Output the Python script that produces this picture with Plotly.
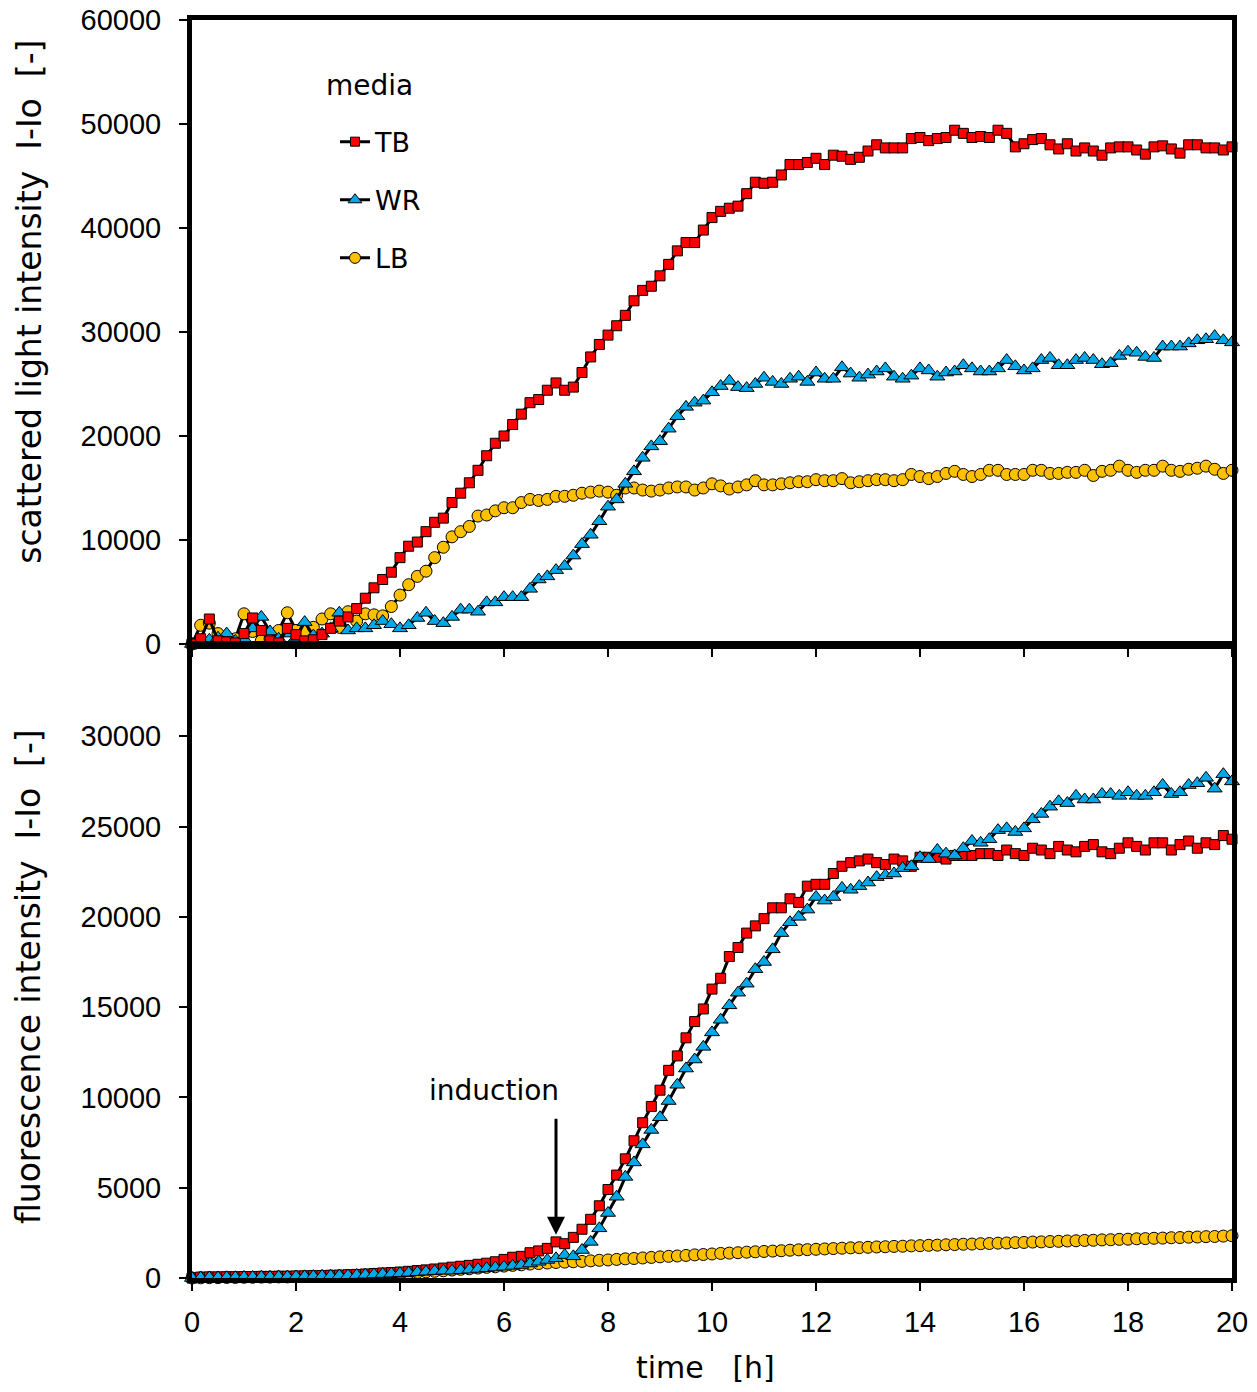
import plotly.graph_objects as go

# time points (h), one every 10 min
time_h = [i / 6 for i in range(121)]

# ---- scattered light intensity (top panel) ----
scatter_TB = [0, 500, 2400, 300, 200, 100, 1000, 2500, 1300, 300, 100, 1500, 900, 300, 400, 900, 1500, 2200,
              2600, 3400, 4400, 5400, 6200, 6900, 8300, 9400, 9800, 10800, 11700, 12100,
              13600, 14500, 15500, 16700, 18100, 19300, 20000, 21100, 22100, 23200, 23500, 24400,
              25100, 24400, 24700, 26100, 27600, 28800, 29700, 30600, 31600, 33000, 34000, 34400,
              35400, 36500, 37800, 38600, 38600, 39800, 41000, 41600, 41900, 42100, 43300, 44400,
              44300, 44400, 45100, 46100, 46100, 46300, 46700, 46100, 47000, 46900, 46600, 46800,
              47400, 48000, 47700, 47700, 47700, 48600, 48700, 48400, 48600, 48700, 49400, 49100,
              48700, 48800, 48700, 49400, 49100, 47800, 48100, 48500, 48600, 48000, 47600, 48100,
              47400, 47700, 47400, 47000, 47700, 47800, 47800, 47500, 47100, 47800, 47900, 47600,
              47200, 48000, 48000, 47700, 47700, 47500, 47800]
scatter_WR = [0, 200, 400, 600, 1000, 300, 500, 1500, 2600, 1200, 500, 1000, 600, 2100, 800, 1000, 1500, 3000,
              1300, 1500, 1500, 1800, 2200, 1900, 1500, 1800, 2500, 3000, 2200, 2000,
              2600, 3300, 3300, 3100, 4000, 4000, 4500, 4500, 4500, 5300, 6200, 6500,
              7100, 7500, 8500, 9600, 10500, 11800, 13200, 13900, 15400, 16600, 17900, 19000,
              19500, 20700, 21900, 22800, 23200, 23400, 24200, 24800, 25300, 24700, 24600, 25000,
              25600, 25200, 25000, 25500, 25700, 25200, 26100, 25500, 25500, 26600, 26000, 25600,
              25900, 26200, 26500, 25700, 25500, 25800, 26500, 26300, 25700, 26100, 26200, 26800,
              26500, 26200, 26200, 26500, 27300, 26700, 26300, 26500, 27300, 27500, 26800, 26800,
              27300, 27500, 27300, 26900, 27000, 27700, 28100, 28000, 27600, 27500, 28600, 28600,
              28600, 28900, 29200, 29300, 29600, 29200, 29000]
scatter_LB = [0, 1800, 2000, 1000, 200, 500, 2900, 1200, 300, 500, 1300, 3000, 1300, 1200, 1600, 2400, 2900, 1600,
              3100, 2200, 2900, 2800, 2700, 3600, 4700, 5700, 6500, 7000, 8300, 9300,
              10300, 10800, 11300, 12300, 12400, 12800, 13100, 13100, 13600, 13900, 13800, 13900,
              14200, 14200, 14300, 14500, 14600, 14700, 14600, 14300, 15000, 15000, 14800, 14700,
              14800, 15000, 15100, 15100, 14800, 15000, 15400, 15200, 14900, 15100, 15300, 15700,
              15300, 15300, 15400, 15500, 15600, 15600, 15800, 15700, 15700, 15900, 15500, 15600,
              15700, 15800, 15800, 15700, 15800, 16300, 16100, 15900, 16100, 16400, 16600, 16300,
              16100, 16300, 16700, 16700, 16300, 16300, 16300, 16700, 16700, 16400, 16400, 16500,
              16500, 16700, 16200, 16600, 16700, 17100, 16700, 16500, 16700, 16700, 17100, 16700,
              16600, 16800, 16900, 17100, 16800, 16400, 16700]

# ---- fluorescence intensity (bottom panel) ----
fluo_TB = [0, 50, 60, 60, 70, 70, 80, 80, 90, 90, 100, 100, 110, 120, 130, 140, 150, 160,
           180, 200, 220, 250, 280, 300, 330, 370, 410, 450, 500, 550,
           600, 650, 700, 760, 820, 900, 1030, 1150, 1200, 1400, 1500, 1640,
           2000, 1900, 2250, 2700, 3250, 4000, 4900, 5700, 6600, 7600, 8600, 9500,
           10400, 11500, 12300, 13300, 14200, 14900, 16000, 16600, 17800, 18300, 19100, 19500,
           19900, 20500, 20500, 21000, 20800, 21700, 21800, 21800, 22400, 22800, 23000, 23100,
           23200, 23000, 22900, 23200, 23100, 22800, 23300, 23300, 23300, 23200, 23400, 23400,
           23400, 23500, 23500, 23400, 23700, 23500, 23400, 23800, 23700, 23500, 23900, 23700,
           23600, 23900, 24000, 23600, 23500, 23800, 24100, 23900, 23700, 24100, 24100, 23700,
           24000, 24200, 23800, 24100, 24000, 24500, 24300]
fluo_WR = [0, 20, 30, 30, 40, 40, 50, 50, 60, 60, 70, 70, 80, 90, 100, 110, 120, 130,
           140, 160, 180, 200, 220, 240, 260, 290, 320, 350, 380, 400,
           400, 430, 460, 500, 540, 580, 620, 670, 720, 800, 900, 1000,
           1090, 1270, 1200, 1550, 2000, 2750, 3600, 4500, 5600, 6400, 7400, 8200,
           8900, 9800, 10700, 11600, 12100, 12800, 13600, 14300, 15100, 15800, 16300, 17100,
           17500, 18200, 19100, 19700, 20000, 20400, 21100, 20900, 21100, 21600, 21500, 21700,
           21900, 22200, 22300, 22400, 22700, 22800, 23300, 23200, 23700, 23500, 23400, 23800,
           24200, 24100, 24300, 24800, 24900, 24700, 24900, 25400, 25700, 26100, 26400, 26300,
           26700, 26500, 26500, 26800, 26800, 26700, 26900, 26700, 26700, 26900, 27300, 26800,
           26900, 27300, 27400, 27700, 27100, 27900, 27500]
fluo_LB = [0, 10, 20, 20, 30, 30, 40, 40, 50, 50, 60, 60, 70, 80, 90, 100, 110, 120,
           130, 150, 170, 190, 210, 230, 250, 280, 310, 340, 370, 400,
           440, 480, 510, 550, 590, 620, 660, 700, 730, 770, 800, 830,
           860, 880, 900, 920, 950, 980, 1000, 1030, 1060, 1080, 1110, 1140,
           1170, 1200, 1220, 1250, 1280, 1300, 1330, 1360, 1380, 1400, 1430, 1450,
           1470, 1490, 1510, 1540, 1560, 1570, 1590, 1610, 1630, 1650, 1670, 1680,
           1700, 1720, 1730, 1750, 1760, 1780, 1790, 1810, 1820, 1840, 1850, 1870,
           1880, 1900, 1910, 1930, 1940, 1960, 1970, 1990, 2000, 2020, 2030, 2050,
           2060, 2080, 2090, 2110, 2120, 2140, 2150, 2170, 2180, 2200, 2210, 2230,
           2240, 2260, 2270, 2290, 2300, 2320, 2340]

x_ticks = list(range(0, 21, 2))
top_ticks = list(range(0, 60001, 10000))
bottom_ticks = list(range(0, 30001, 5000))
induction_time = 7
induction_tip = 2400
induction_tail = 8900

TICKFONT = "Liberation Sans, Arial, sans-serif"
TEXTFONT = "DejaVu Sans, Verdana, sans-serif"
series_style = {
    "TB": dict(symbol="square", color="#FF0000", size=10),
    "WR": dict(symbol="triangle-up", color="#00A8E8", size=13),
    "LB": dict(symbol="circle", color="#FFC000", size=12),
}

fig = go.Figure()

def add(name, x, y, xa, ya, show, group):
    st = series_style[name]
    fig.add_trace(go.Scatter(
        x=x, y=y, name=name, xaxis=xa, yaxis=ya, mode="lines+markers",
        line=dict(color="black", width=3),
        marker=dict(symbol=st["symbol"], color=st["color"], size=st["size"],
                    line=dict(color="black", width=1)),
        showlegend=show, legendgroup=group, cliponaxis=False,
    ))

# upper panel
add("LB", time_h, scatter_LB, "x", "y", False, "g3")
add("WR", time_h, scatter_WR, "x", "y", False, "g2")
add("TB", time_h, scatter_TB, "x", "y", False, "g1")
# lower panel
add("LB", time_h, fluo_LB, "x2", "y2", False, "g3")
add("TB", time_h, fluo_TB, "x2", "y2", False, "g1")
add("WR", time_h, fluo_WR, "x2", "y2", False, "g2")

# legend entries
for name, grp in [("TB", "g1"), ("WR", "g2"), ("LB", "g3")]:
    st = series_style[name]
    fig.add_trace(go.Scatter(
        x=[None], y=[None], name=name, xaxis="x", yaxis="y", mode="lines+markers",
        line=dict(color="black", width=3),
        marker=dict(symbol=st["symbol"], color=st["color"], size=st["size"] - 1,
                    line=dict(color="black", width=1)),
        showlegend=True, legendgroup=grp,
    ))

axis_common = dict(showline=True, linecolor="black", linewidth=5, mirror=True,
                   ticks="outside", ticklen=8, tickwidth=2, tickcolor="black",
                   showgrid=False, zeroline=False, automargin=False, tickformat="d",
                   ticklabeloverflow="allow",
                   tickfont=dict(family=TICKFONT, size=29, color="black"))

fig.update_layout(
    width=1257, height=1392,
    margin=dict(l=192, r=25, t=20, b=114, autoexpand=False),
    paper_bgcolor="white", plot_bgcolor="white",
    font=dict(family=TEXTFONT, size=28, color="black"),
    xaxis=dict(domain=[0, 1], anchor="y", range=[0, 20], tickvals=x_ticks,
               showticklabels=False, **axis_common),
    yaxis=dict(domain=[0.504, 1], anchor="x", range=[0, 60000], tickvals=top_ticks,
               ticklabelstandoff=12, **axis_common),
    xaxis2=dict(domain=[0, 1], anchor="y2", range=[0, 20], tickvals=x_ticks,
                ticklabelstandoff=6, **axis_common),
    yaxis2=dict(domain=[0, 0.5024], anchor="x2", range=[0, 35000], tickvals=bottom_ticks,
                ticklabelstandoff=12, **axis_common),
    legend=dict(x=0.1375, y=0.9224, xanchor="left", yanchor="top",
                bgcolor="rgba(0,0,0,0)", tracegroupgap=20,
                font=dict(family=TEXTFONT, size=27), itemwidth=30),
    showlegend=True,
)

fig.add_annotation(text="media", xref="paper", yref="paper", x=0.171, y=0.948,
                   showarrow=False, xanchor="center", yanchor="middle",
                   font=dict(family=TEXTFONT, size=28))
fig.add_annotation(text="scattered light intensity\u00a0\u00a0I-Io\u00a0\u00a0[-]",
                   xref="paper", yref="paper", x=-0.1558, y=0.776, textangle=-90,
                   showarrow=False, xanchor="center", yanchor="middle",
                   font=dict(family=TEXTFONT, size=33))
fig.add_annotation(text="fluorescence intensity\u00a0\u00a0I-Io\u00a0\u00a0[-]",
                   xref="paper", yref="paper", x=-0.1577, y=0.24, textangle=-90,
                   showarrow=False, xanchor="center", yanchor="middle",
                   font=dict(family=TEXTFONT, size=33))
fig.add_annotation(text="time\u00a0\u00a0\u00a0[h]", xref="paper", yref="paper",
                   x=0.494, y=-0.0715, showarrow=False, xanchor="center", yanchor="middle",
                   font=dict(family=TEXTFONT, size=30))
fig.add_annotation(text="induction", xref="x2", yref="y2", x=5.81, y=10400,
                   showarrow=False, xanchor="center", yanchor="middle",
                   font=dict(family=TEXTFONT, size=28))
fig.add_annotation(text="", xref="x2", yref="y2", x=induction_time, y=induction_tip,
                   axref="x2", ayref="y2", ax=induction_time, ay=induction_tail,
                   showarrow=True, arrowhead=2, arrowsize=1.2, arrowwidth=3, arrowcolor="black")

# remove the default 8px page margin so the figure fills the window exactly
fig.write_html("out.html", config={"displayModeBar": False},
               post_script="document.body.style.margin='0';document.body.style.overflow='hidden';")
